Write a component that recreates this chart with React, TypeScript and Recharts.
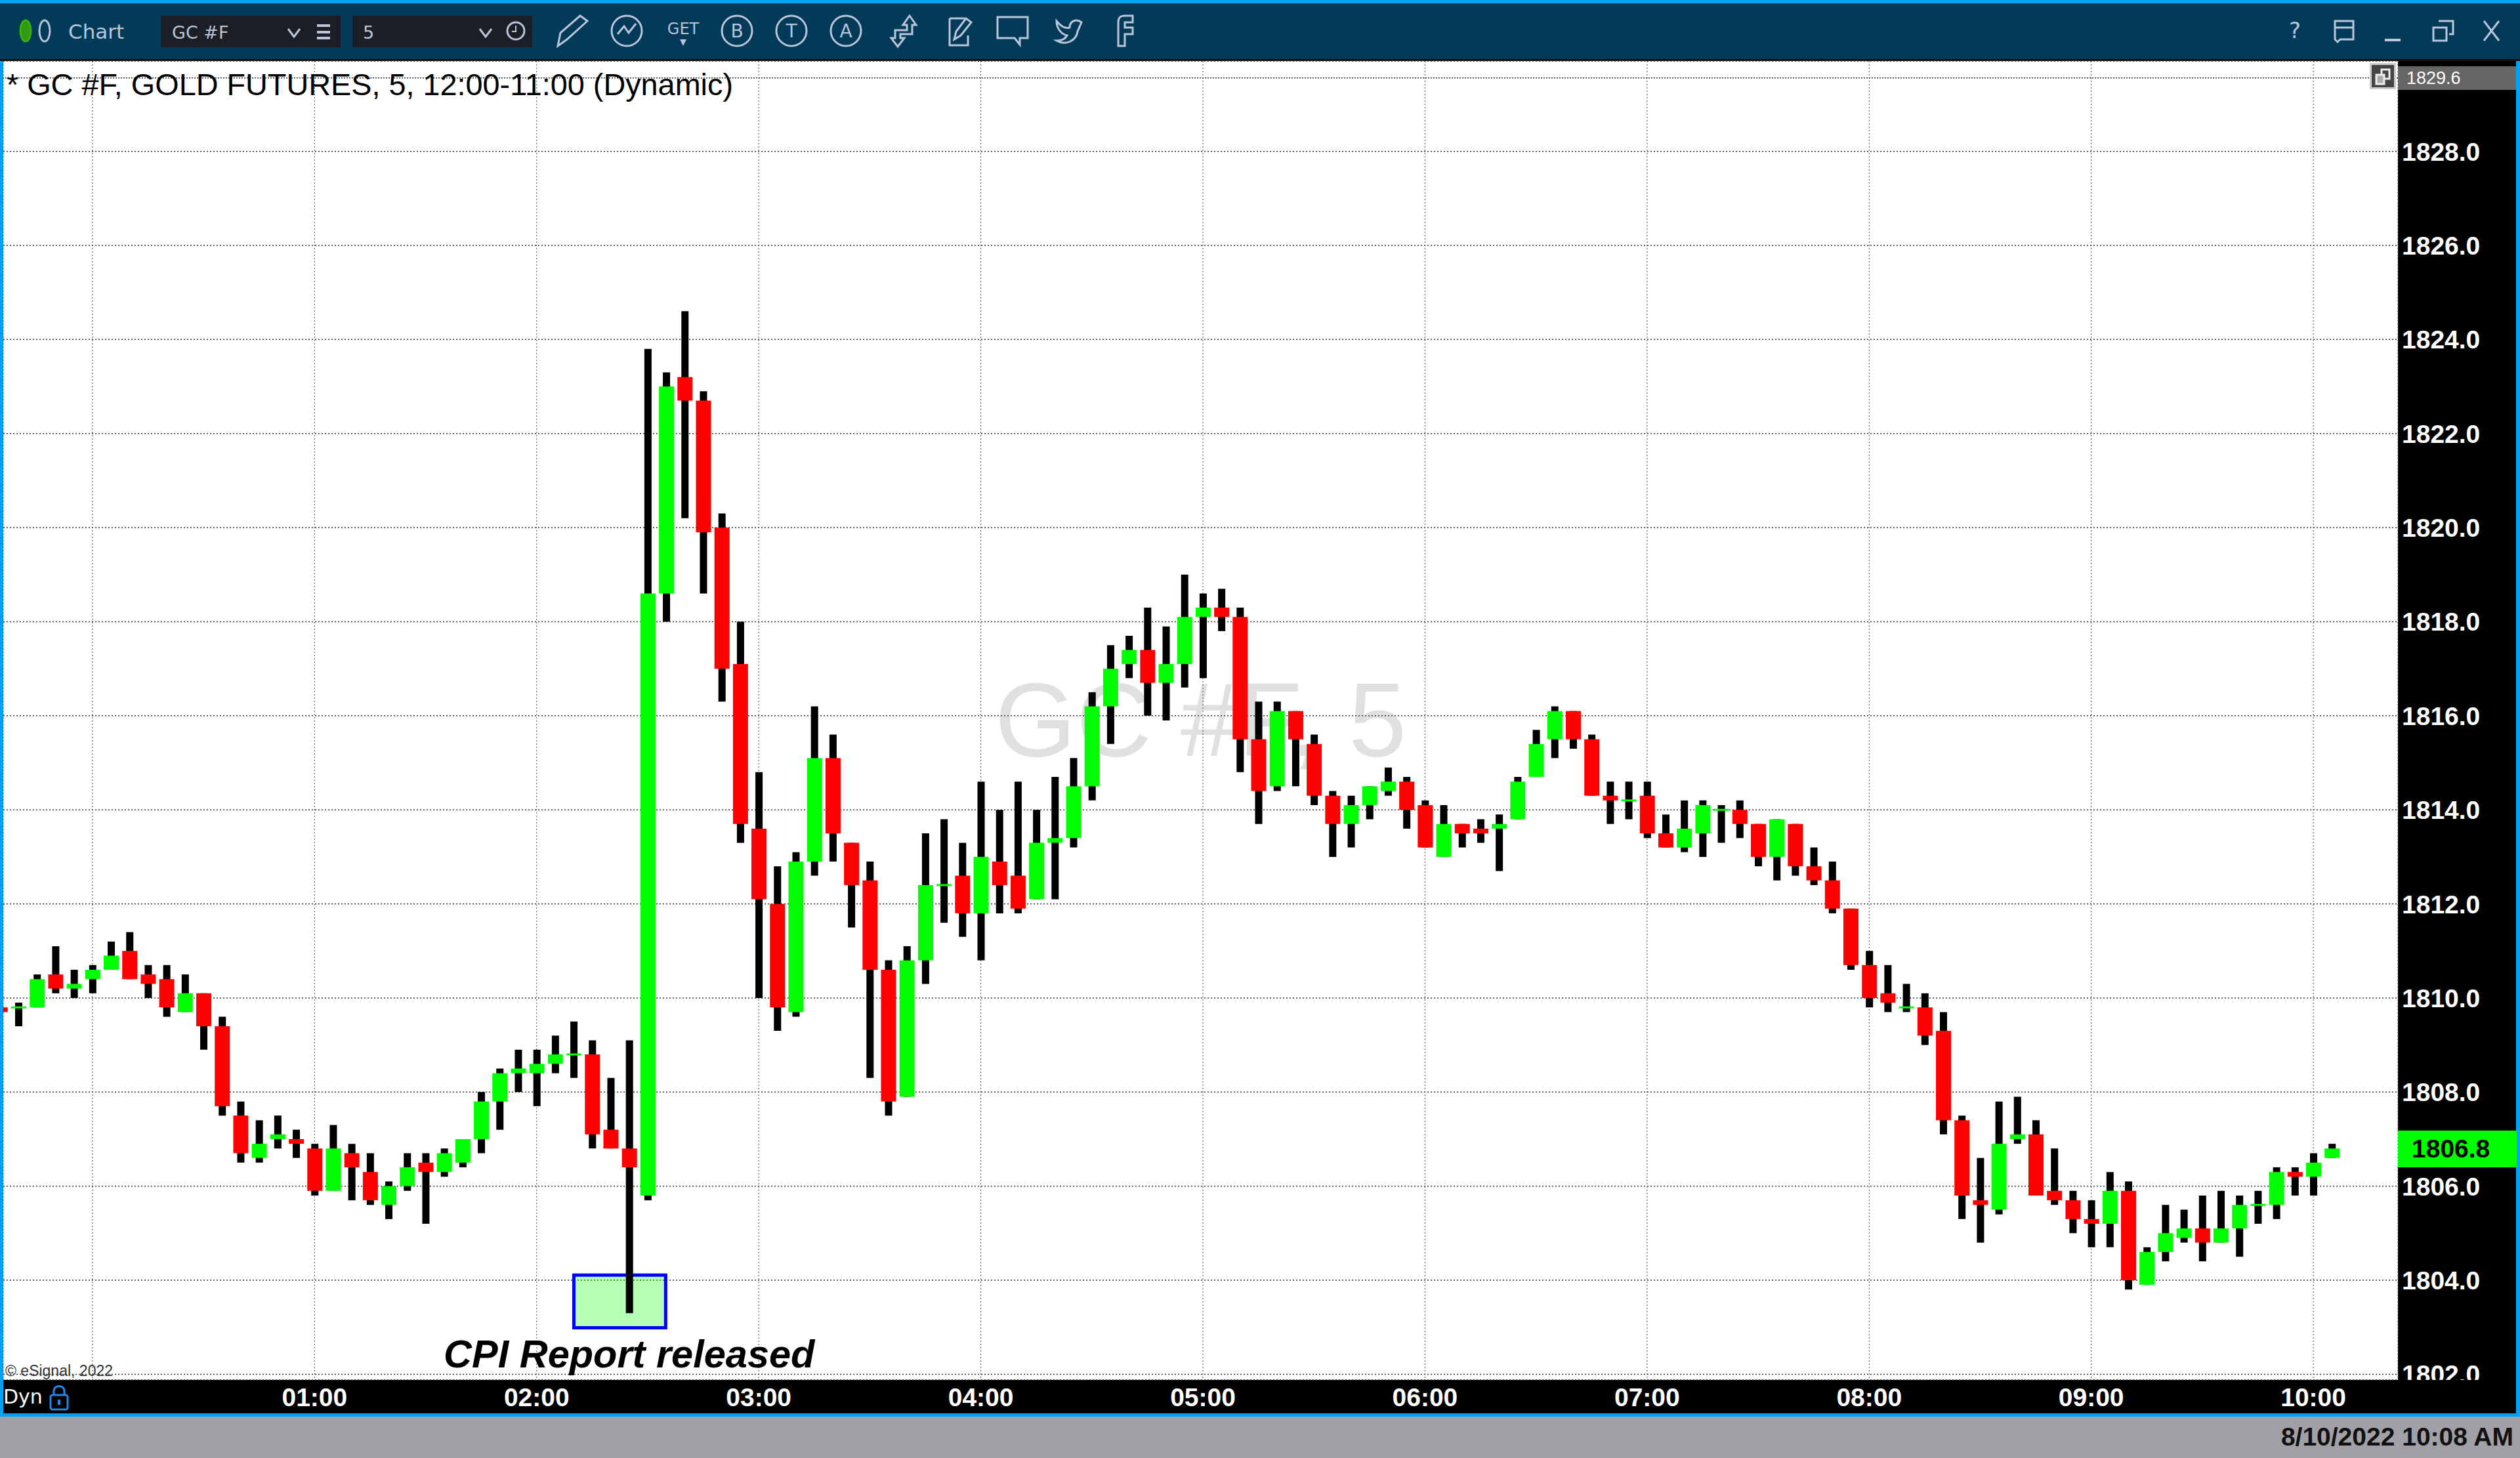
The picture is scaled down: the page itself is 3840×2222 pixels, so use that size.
import {
  Bar,
  CartesianGrid,
  ComposedChart,
  ReferenceArea,
  ReferenceLine,
  XAxis,
  YAxis,
} from "recharts";

const FIRST_MINUTE = -25;
const BAR_MINUTES = 5;

const opens = [
  1809.8, 1809.8, 1809.8, 1810.5, 1810.2, 1810.4, 1810.6, 1811.0, 1810.5, 1810.4, 1809.7, 1810.1, 1809.4, 1807.5, 1806.6, 1807.0, 1807.0, 1806.8,
  1805.9, 1806.7, 1806.3, 1805.6, 1806.0, 1806.5, 1806.3, 1806.5, 1807.0, 1807.8, 1808.4, 1808.4, 1808.6, 1808.8, 1808.8, 1807.2, 1806.8, 1805.8,
  1818.6, 1823.2, 1822.7, 1820.0, 1817.1, 1813.6, 1812.0, 1809.7, 1812.9, 1815.1, 1813.3, 1812.5, 1810.6, 1807.9, 1810.8, 1812.4, 1812.6, 1811.8,
  1812.9, 1812.6, 1812.1, 1813.3, 1813.4, 1814.5, 1816.2, 1817.1, 1817.4, 1816.7, 1817.1, 1818.1, 1818.3, 1818.1, 1815.5, 1814.5, 1816.1, 1815.4,
  1814.3, 1813.7, 1814.1, 1814.4, 1814.6, 1814.1, 1813.0, 1813.7, 1813.6, 1813.6, 1813.8, 1814.7, 1815.5, 1816.1, 1815.5, 1814.3, 1814.2, 1814.3,
  1813.5, 1813.2, 1813.5, 1814.0, 1814.0, 1813.7, 1813.0, 1813.7, 1812.8, 1812.5, 1811.9, 1810.7, 1810.1, 1809.8, 1809.8, 1809.3, 1807.4, 1805.7,
  1805.5, 1807.0, 1807.1, 1805.9, 1805.7, 1805.3, 1805.2, 1805.9, 1803.9, 1804.6, 1804.9, 1805.1, 1804.8, 1805.1, 1805.6, 1805.6, 1806.3, 1806.2,
  1806.6,
];

const highs = [
  1809.8, 1809.9, 1810.5, 1811.1, 1810.6, 1810.7, 1811.2, 1811.4, 1810.7, 1810.7, 1810.5, 1810.1, 1809.6, 1807.8, 1807.4, 1807.5, 1807.2, 1806.9,
  1807.3, 1806.9, 1806.7, 1806.1, 1806.7, 1806.7, 1806.8, 1807.0, 1808.0, 1808.5, 1808.9, 1808.9, 1809.2, 1809.5, 1809.1, 1808.3, 1809.1, 1823.8,
  1823.3, 1824.6, 1822.9, 1820.3, 1818.0, 1814.8, 1812.8, 1813.1, 1816.2, 1815.6, 1813.3, 1812.9, 1810.8, 1811.1, 1813.5, 1813.8, 1813.3, 1814.6,
  1814.0, 1814.6, 1814.0, 1814.7, 1815.1, 1816.5, 1817.5, 1817.7, 1818.3, 1817.9, 1819.0, 1818.6, 1818.7, 1818.3, 1816.3, 1816.3, 1816.1, 1815.6,
  1814.4, 1814.3, 1814.5, 1814.9, 1814.7, 1814.2, 1814.1, 1813.7, 1813.8, 1813.9, 1814.7, 1815.7, 1816.2, 1816.1, 1815.6, 1814.6, 1814.6, 1814.6,
  1813.9, 1814.2, 1814.2, 1814.1, 1814.2, 1813.7, 1813.8, 1813.7, 1813.2, 1812.9, 1811.9, 1811.0, 1810.7, 1810.3, 1810.1, 1809.7, 1807.5, 1806.6,
  1807.8, 1807.9, 1807.4, 1806.8, 1805.9, 1805.7, 1806.3, 1806.1, 1804.7, 1805.6, 1805.5, 1805.8, 1805.9, 1805.8, 1805.9, 1806.4, 1806.4, 1806.7,
  1806.9,
];

const lows = [
  1809.7, 1809.4, 1809.8, 1810.1, 1810.0, 1810.1, 1810.6, 1810.4, 1810.0, 1809.6, 1809.7, 1808.9, 1807.5, 1806.5, 1806.5, 1806.8, 1806.6, 1805.8,
  1805.9, 1805.7, 1805.6, 1805.3, 1805.9, 1805.2, 1806.2, 1806.4, 1806.7, 1807.2, 1808.0, 1807.7, 1808.4, 1808.3, 1806.8, 1806.8, 1803.3, 1805.7,
  1818.0, 1820.2, 1818.6, 1816.3, 1813.3, 1810.0, 1809.3, 1809.6, 1812.6, 1812.9, 1811.5, 1808.3, 1807.5, 1807.9, 1810.3, 1811.6, 1811.3, 1810.8,
  1811.8, 1811.8, 1812.1, 1812.1, 1813.2, 1814.2, 1815.4, 1816.8, 1816.0, 1815.9, 1816.6, 1816.8, 1817.8, 1814.8, 1813.7, 1814.4, 1814.5, 1814.1,
  1813.0, 1813.2, 1813.8, 1814.3, 1813.6, 1813.2, 1813.0, 1813.2, 1813.3, 1812.7, 1813.8, 1814.7, 1815.1, 1815.3, 1814.3, 1813.7, 1813.8, 1813.4,
  1813.2, 1813.1, 1813.0, 1813.3, 1813.4, 1812.8, 1812.5, 1812.6, 1812.4, 1811.8, 1810.6, 1809.8, 1809.7, 1809.7, 1809.0, 1807.1, 1805.3, 1804.8,
  1805.4, 1806.9, 1805.8, 1805.6, 1805.0, 1804.7, 1804.7, 1803.8, 1803.9, 1804.4, 1804.8, 1804.4, 1804.8, 1804.5, 1805.2, 1805.3, 1805.8, 1805.8,
  1806.6,
];

const closes = [
  1809.7, 1809.8, 1810.4, 1810.2, 1810.3, 1810.6, 1810.9, 1810.4, 1810.3, 1809.8, 1810.1, 1809.4, 1807.7, 1806.7, 1806.9, 1807.1, 1806.9, 1805.9,
  1806.8, 1806.4, 1805.7, 1806.0, 1806.4, 1806.3, 1806.7, 1807.0, 1807.8, 1808.4, 1808.5, 1808.6, 1808.8, 1808.8, 1807.1, 1806.8, 1806.4, 1818.6,
  1823.0, 1822.7, 1819.9, 1817.0, 1813.7, 1812.1, 1809.8, 1812.9, 1815.1, 1813.5, 1812.4, 1810.6, 1807.8, 1810.8, 1812.4, 1812.4, 1811.8, 1813.0,
  1812.4, 1811.9, 1813.3, 1813.4, 1814.5, 1816.2, 1817.0, 1817.4, 1816.7, 1817.1, 1818.1, 1818.3, 1818.1, 1815.5, 1814.4, 1816.1, 1815.5, 1814.3,
  1813.7, 1814.1, 1814.5, 1814.6, 1814.0, 1813.2, 1813.7, 1813.5, 1813.5, 1813.7, 1814.6, 1815.4, 1816.1, 1815.5, 1814.3, 1814.2, 1814.2, 1813.5,
  1813.2, 1813.6, 1814.1, 1814.0, 1813.7, 1813.0, 1813.8, 1812.8, 1812.5, 1811.9, 1810.7, 1810.0, 1809.9, 1809.8, 1809.2, 1807.4, 1805.8, 1805.6,
  1806.9, 1807.1, 1805.8, 1805.7, 1805.3, 1805.2, 1805.9, 1804.0, 1804.6, 1805.0, 1805.1, 1804.8, 1805.1, 1805.6, 1805.6, 1806.3, 1806.2, 1806.5,
  1806.8,
];

const priceTicks = [1802, 1804, 1806, 1808, 1810, 1812, 1814, 1816, 1818, 1820, 1822, 1824, 1826, 1828];
const hourTicks = [0, 60, 120, 180, 240, 300, 360, 420, 480, 540, 600];
const hourLabels = ["", "01:00", "02:00", "03:00", "04:00", "05:00", "06:00", "07:00", "08:00", "09:00", "10:00"];

const candles = opens.map((open, i) => ({
  minute: FIRST_MINUTE + i * BAR_MINUTES,
  wick: [lows[i], highs[i]],
  body: [Math.min(open, closes[i]), Math.max(open, closes[i])],
  up: closes[i] >= open,
}));

const GREEN = "#00ff00";
const RED = "#ff0000";
const ICON = "#b9c5da";
const AXIS_FONT = "'Liberation Sans', Arial, sans-serif";

function CandleBody({ x, y, width, height, payload }: any) {
  // flat candles still show as a thin line
  const h = Math.max(Math.abs(height), 3);
  const top = height < 3 ? y - h / 2 : y;
  return <rect x={x} y={top} width={width} height={h} fill={payload.up ? GREEN : RED} />;
}

function PriceTick({ x, y, payload }: any) {
  return (
    <text
      x={x - 2}
      y={y + 14}
      clipPath="url(#plot-height-clip)"
      fill="#fff"
      fontFamily={AXIS_FONT}
      fontWeight="bold"
      fontSize={39}
    >
      {payload.value.toFixed(1)}
    </text>
  );
}

function CircleLetter({ x, letter }: { x: number; letter: string }) {
  return (
    <g>
      <circle cx={x} cy={47} r={23} fill="none" stroke={ICON} strokeWidth={3} />
      <text x={x} y={57} textAnchor="middle" fontSize={28} fill={ICON} fontFamily="DejaVu Sans">
        {letter}
      </text>
    </g>
  );
}

function Toolbar() {
  return (
    <svg width={3840} height={93} style={{ position: "absolute", left: 0, top: 0 }}>
      <rect width={3840} height={93} fill="#023a58" />
      <rect width={3840} height={5} fill="#00a2f5" />
      <rect y={90} width={3840} height={3} fill="#111" />
      <ellipse cx={39} cy={47} rx={8} ry={16} fill="#2f9a12" stroke="#38b010" strokeWidth={3} />
      <ellipse cx={68} cy={47} rx={8} ry={16} fill="none" stroke={ICON} strokeWidth={3} />
      <text x={104} y={59} fontSize={31} fill={ICON} fontFamily="DejaVu Sans">Chart</text>

      <rect x={245} y={24} width={274} height={48} fill="#1c1e26" />
      <text x={262} y={59} fontSize={27} fill={ICON} fontFamily="DejaVu Sans">GC #F</text>
      <path d="M439 44 L448 56 L457 44" fill="none" stroke={ICON} strokeWidth={3} />
      <path d="M483 39 H503 M483 49 H503 M483 58 H503" stroke={ICON} strokeWidth={4} />

      <rect x={537} y={24} width={274} height={48} fill="#1c1e26" />
      <text x={553} y={59} fontSize={27} fill={ICON} fontFamily="DejaVu Sans">5</text>
      <path d="M731 44 L740 56 L749 44" fill="none" stroke={ICON} strokeWidth={3} />
      <circle cx={786} cy={47} r={13} fill="none" stroke={ICON} strokeWidth={3} />
      <path d="M786 39 V48 H780" fill="none" stroke={ICON} strokeWidth={2} />

      <path d="M850 70 L854 50 L884 24 L895 32 L864 60 Z" fill="none" stroke={ICON} strokeWidth={3} />
      <circle cx={955} cy={47} r={23} fill="none" stroke={ICON} strokeWidth={3} />
      <path d="M941 52 L951 40 L958 50 L969 36" fill="none" stroke={ICON} strokeWidth={3} />
      <text x={1041} y={52} textAnchor="middle" fontSize={24} fill={ICON} fontFamily="DejaVu Sans">GET</text>
      <path d="M1036 60 H1046 L1041 70 Z" fill={ICON} />
      <CircleLetter x={1123} letter="B" />
      <CircleLetter x={1206} letter="T" />
      <CircleLetter x={1289} letter="A" />
      <path d="M1386 24 L1396 38 H1390 V52 H1372 V58 H1378 L1368 71 L1358 58 H1364 V46 H1382 V38 H1376 Z" fill="none" stroke={ICON} strokeWidth={3} />
      <path d="M1447 28 H1470 M1447 28 V69 H1475 V54" fill="none" stroke={ICON} strokeWidth={3} />
      <path d="M1454 60 L1457 48 L1472 28 L1480 34 L1464 54 Z" fill="none" stroke={ICON} strokeWidth={3} />
      <path d="M1520 26 H1566 V58 H1554 V68 L1546 58 H1520 Z" fill="none" stroke={ICON} strokeWidth={3} />
      <path d="M1610 32 C1618 42 1624 44 1630 42 C1630 32 1640 28 1648 34 L1642 48 C1640 62 1624 70 1610 62 C1620 62 1624 58 1626 54 C1616 52 1610 42 1610 32 Z" fill="none" stroke={ICON} strokeWidth={3} />
      <path d="M1726 24 H1714 C1706 24 1704 28 1704 34 V70 H1714 V52 H1726 V42 H1714 V34 H1726 Z" fill="none" stroke={ICON} strokeWidth={3} />

      <text x={3497} y={58} textAnchor="middle" fontSize={34} fill={ICON} fontFamily="DejaVu Sans">?</text>
      <path d="M3558 32 H3586 V60 H3566 L3562 64 L3558 60 Z M3558 42 H3586" fill="none" stroke={ICON} strokeWidth={3} />
      <rect x={3634} y={59} width={24} height={4} fill={ICON} />
      <path d="M3716 32 H3738 V52 H3732 M3708 42 H3728 V62 H3708 Z" fill="none" stroke={ICON} strokeWidth={3} />
      <path d="M3785 32 L3808 62 M3808 32 L3785 62" stroke={ICON} strokeWidth={3} />
    </svg>
  );
}

export default function App() {
  return (
    <div style={{ position: "absolute", left: 0, top: 0, width: 3840, height: 2222, overflow: "hidden", background: "#fff", fontFamily: AXIS_FONT }}>
      {/* panels behind the chart */}
      <div style={{ position: "absolute", left: 0, top: 2159, width: 3840, height: 63, background: "#a0a0a6" }} />
      <div style={{ position: "absolute", left: 0, top: 2154, width: 3840, height: 5, background: "#00a2f5" }} />
      <div style={{ position: "absolute", left: 0, top: 2103, width: 3840, height: 51, background: "#000" }} />
      <div style={{ position: "absolute", left: 3654, top: 93, width: 180, height: 2010, background: "#000" }} />
      <div style={{ position: "absolute", left: 0, top: 0, width: 5, height: 2159, background: "#00a2f5" }} />
      <div style={{ position: "absolute", left: 3834, top: 0, width: 6, height: 2159, background: "#00a2f5" }} />
      <div style={{ position: "absolute", left: 1516, top: 1006, fontSize: 159, color: "#e0e0e0", whiteSpace: "nowrap" }}>GC #F, 5</div>

      <div style={{ position: "absolute", left: 0, top: 0 }}>
        <ComposedChart
          width={3840}
          height={2222}
          data={candles}
          margin={{ top: 93, right: 6, bottom: 68, left: 5 }}
        >
          <defs>
            <clipPath id="plot-height-clip">
              <rect x={3654} y={93} width={180} height={2010} />
            </clipPath>
          </defs>
          <CartesianGrid vertical={false} stroke="#333" strokeDasharray="2 3" strokeWidth={1.5} />
          <CartesianGrid horizontal={false} stroke="#444" strokeDasharray="2 3" strokeWidth={1} />
          <XAxis
            dataKey="minute"
            type="number"
            domain={[-24.1, 622.85]}
            allowDataOverflow
            ticks={hourTicks}
            interval={0}
            height={51}
            tickLine={false}
            axisLine={false}
            tickMargin={6}
            tick={{ fill: "#fff", fontSize: 39, fontWeight: "bold", fontFamily: AXIS_FONT }}
            tickFormatter={(m: number) => hourLabels[hourTicks.indexOf(m)]}
          />
          <XAxis xAxisId="wick" dataKey="minute" type="number" domain={[-24.1, 622.85]} allowDataOverflow hide />
          <YAxis
            orientation="right"
            width={180}
            domain={[1801.88, 1829.92]}
            allowDataOverflow
            ticks={priceTicks}
            interval={0}
            tickLine={false}
            axisLine={false}
            tick={<PriceTick />}
          />
          <ReferenceLine y={1829.56} stroke="#333" strokeDasharray="2 2" strokeWidth={1.5} />
          <Bar xAxisId="wick" dataKey="wick" barSize={11} fill="#000" isAnimationActive={false} />
          <Bar dataKey="body" barSize={23} shape={<CandleBody />} isAnimationActive={false} />
          <ReferenceArea
            x1={130.05}
            x2={154.85}
            y1={1802.99}
            y2={1804.11}
            fill={GREEN}
            fillOpacity={0.29}
            stroke="#0000ff"
            strokeWidth={5}
          />
        </ComposedChart>
      </div>

      <Toolbar />

      <div style={{ position: "absolute", left: 10, top: 102, fontSize: 46.8, color: "#000", whiteSpace: "nowrap" }}>
        * GC #F, GOLD FUTURES, 5, 12:00-11:00 (Dynamic)
      </div>
      <div style={{ position: "absolute", left: 676, top: 2029, fontSize: 59.5, fontWeight: "bold", fontStyle: "italic", color: "#000", whiteSpace: "nowrap" }}>
        CPI Report released
      </div>
      <div style={{ position: "absolute", left: 8, top: 2076, fontSize: 23, color: "#333", whiteSpace: "nowrap" }}>© eSignal, 2022</div>

      <div style={{ position: "absolute", left: 5, top: 2111, fontSize: 30, color: "#fff", fontFamily: "DejaVu Sans", whiteSpace: "nowrap" }}>Dyn</div>
      <svg width={40} height={44} style={{ position: "absolute", left: 70, top: 2108 }}>
        <path d="M12 18 V12 C12 2 28 2 28 12 V18" fill="none" stroke="#1e88e5" strokeWidth={3} />
        <rect x={7} y={18} width={26} height={22} rx={3} fill="none" stroke="#1e88e5" strokeWidth={3} />
        <rect x={18} y={25} width={4} height={8} fill="#1e88e5" />
      </svg>

      {/* price tags */}
      <div style={{ position: "absolute", left: 3654, top: 101, width: 180, height: 36, background: "#666", color: "#fff", fontSize: 27, lineHeight: "36px", textIndent: 13 }}>1829.6</div>
      <svg width={40} height={40} style={{ position: "absolute", left: 3611, top: 96 }}>
        <rect x={0} y={0} width={40} height={40} fill="#ccc" />
        <rect x={3} y={3} width={34} height={34} fill="#444" />
        <rect x={18} y={10} width={12} height={14} fill="none" stroke="#eee" strokeWidth={3} />
        <rect x={10} y={18} width={12} height={14} fill="#aaa" stroke="#eee" strokeWidth={3} />
      </svg>
      <div style={{ position: "absolute", left: 3654, top: 1723, width: 181, height: 56, background: GREEN, color: "#000", fontSize: 39, fontWeight: "bold", lineHeight: "56px", textIndent: 21 }}>1806.8</div>

      <div style={{ position: "absolute", right: 10, top: 2168, fontSize: 39, fontWeight: "bold", color: "#111", whiteSpace: "nowrap" }}>8/10/2022 10:08 AM</div>
    </div>
  );
}
